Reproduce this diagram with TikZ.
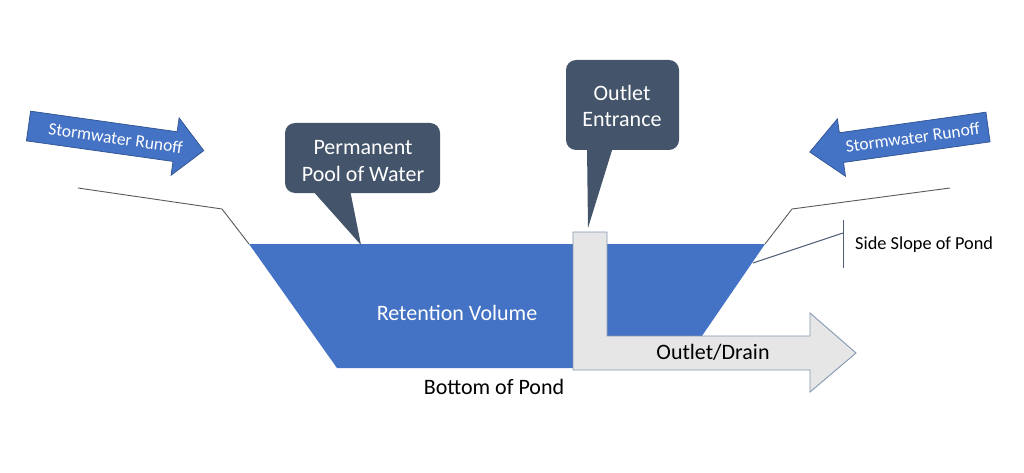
\documentclass[tikz,border=0pt]{standalone}
\usepackage{fontspec}
\setmainfont{Carlito}
\definecolor{pondblue}{HTML}{4472C4}
\definecolor{pondedge}{HTML}{2F528F}
\definecolor{slate}{HTML}{44546A}
\definecolor{drainfill}{HTML}{E7E6E6}
\definecolor{drainedge}{HTML}{8497B0}
\definecolor{groundgray}{HTML}{595959}
\tikzset{
  runoff/.style={fill=pondblue, draw=pondedge, line width=0.7pt},
  runofftext/.style={text=white, font=\fontsize{17.5}{21}\selectfont, inner sep=0pt, transform shape},
  groundline/.style={draw=groundgray, line width=0.9pt},
  drainshape/.style={fill=drainfill, draw=drainedge, line width=0.9pt},
  callbox/.style={fill=slate, rounded corners=10pt},
  calltext/.style={text=white, font=\fontsize{22}{26.5}\selectfont, align=center, inner sep=0pt},
  bigtext/.style={font=\fontsize{22}{26}\selectfont, inner sep=0pt},
  leader/.style={draw=slate!85!drainedge, line width=1pt},
}
\begin{document}
\begin{tikzpicture}[x=1pt,y=-1pt]
\useasboundingbox (0,0) rectangle (1024,473);
% pond water
\fill[pondblue] (249,244) -- (765,244) -- (680,368) -- (337,368) -- cycle;
% ground lines
\draw[groundline] (78,188) -- (222,209) -- (249,244);
\draw[groundline] (950,188) -- (792,209) -- (765,244);
% outlet / drain L-shaped arrow
\draw[drainshape] (573,232) -- (607,232) -- (607,336) -- (810,336) -- (810,313)
  -- (856,353) -- (810,392) -- (810,370) -- (573,370) -- cycle;
% callout: permanent pool
\fill[callbox] (285,123) rectangle (440,193);
\fill[slate] (312,190) -- (350,190) -- (361,245) -- cycle;
\node[calltext] (pool) at (363,161) {Permanent\\Pool of Water};
% callout: outlet entrance
\fill[callbox] (566,60) rectangle (679,150);
\fill[slate] (587,147) -- (613,147) -- (588,228) -- cycle;
\node[calltext] (entrance) at (622,106) {Outlet\\Entrance};
% stormwater runoff arrows
\begin{scope}[shift={(28.5,126)}, rotate=-8]
  \filldraw[runoff] (0,-15) -- (148,-15) -- (148,-29) -- (177,0) -- (148,29) -- (148,15) -- (0,15) -- cycle;
  \node[runofftext] (runL) at (88,0) {Stormwater Runoff};
\end{scope}
\begin{scope}[shift={(988,127)}, rotate=8]
  \filldraw[runoff] (0,-15) -- (-148,-15) -- (-148,-29) -- (-180,0) -- (-148,29) -- (-148,15) -- (0,15) -- cycle;
  \node[runofftext] (runR) at (-76,0) {Stormwater Runoff};
\end{scope}
% labels
\node[bigtext, text=white] (retention) at (457,313) {Retention Volume};
\node[bigtext] (bottom) at (494,387) {Bottom of Pond};
\node[bigtext] (drain) at (713,352) {Outlet/Drain};
% side slope label
\coordinate (slopetop) at (843,220);
\coordinate (slopebot) at (843,268);
\coordinate (slopejoin) at (843,233);
\coordinate (slopept) at (753,263);
\draw[leader] (slopetop) -- (slopebot);
\draw[leader] (slopejoin) -- (slopept);
\node[font=\fontsize{18.3}{22}\selectfont, inner sep=0pt, anchor=west] (side) at (855,245) {Side Slope of Pond};
\end{tikzpicture}
\end{document}
